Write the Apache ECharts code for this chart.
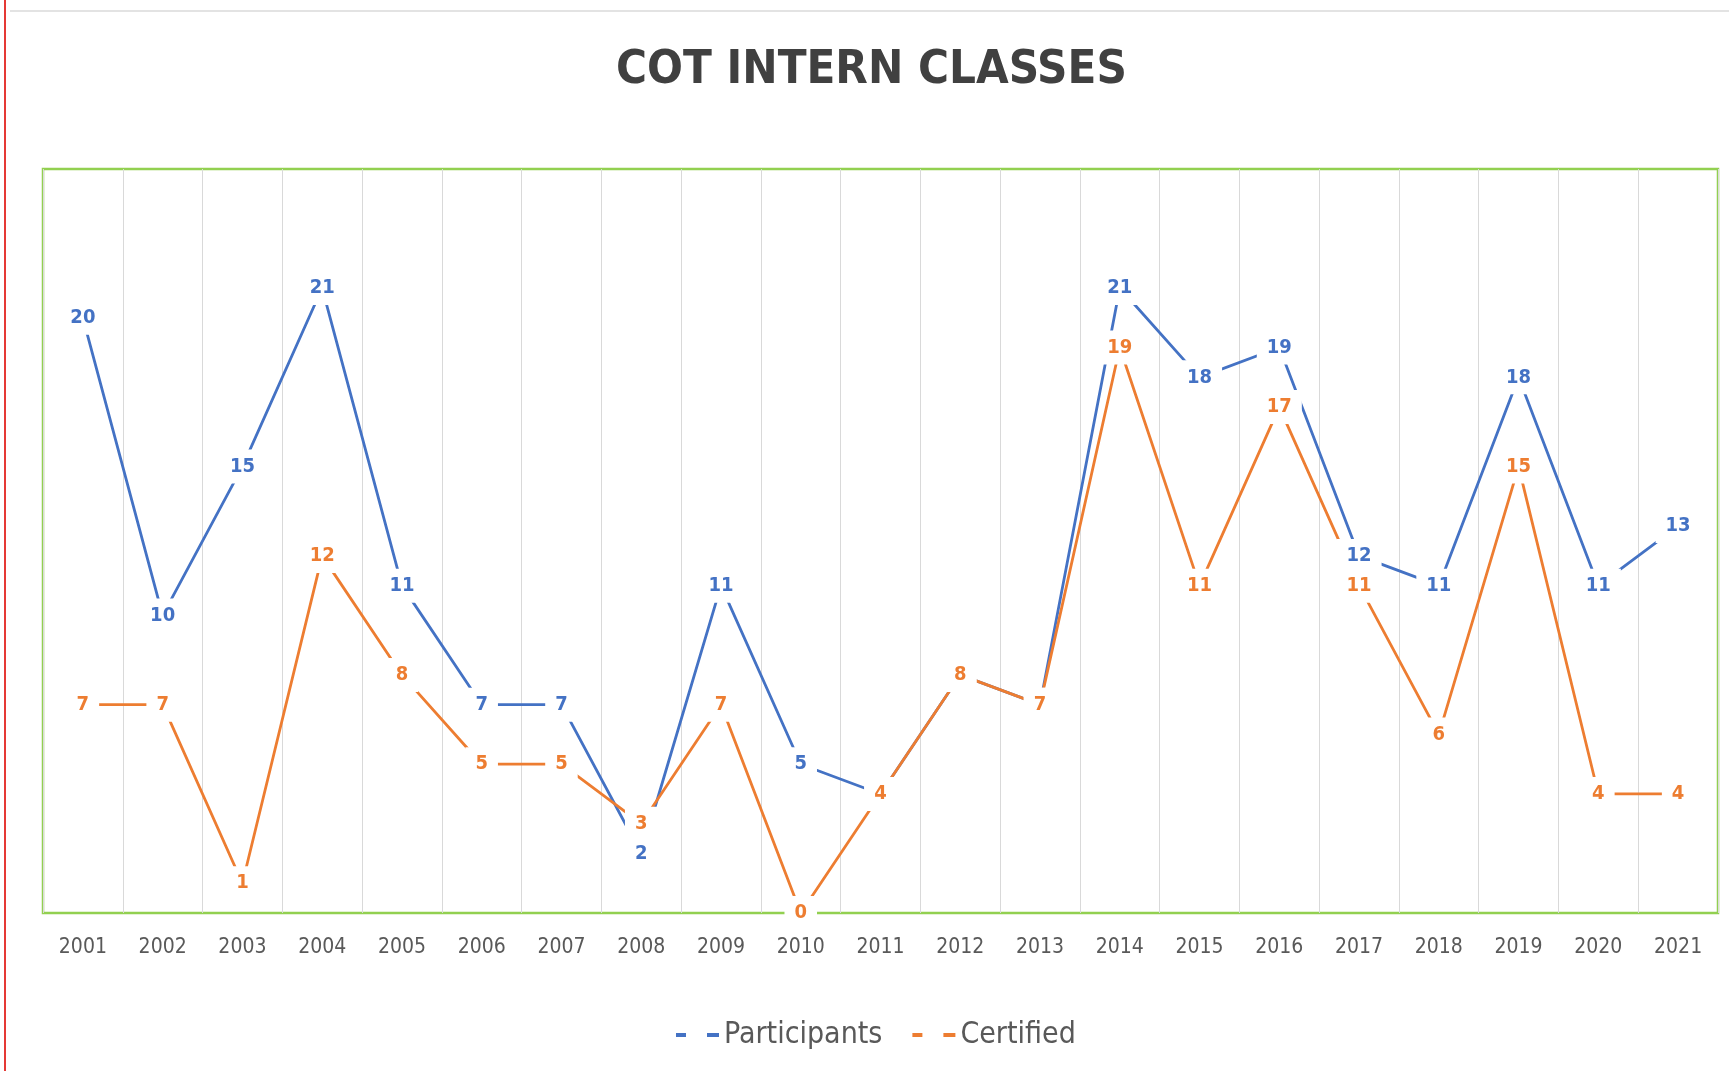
<!DOCTYPE html>
<html>
<head>
<meta charset="utf-8">
<style>
html,body{margin:0;padding:0;background:#fff;}
#chart{width:1729px;height:1071px;}
</style>
<script src="https://cdn.jsdelivr.net/npm/echarts@6/dist/echarts.min.js"></script>
</head>
<body>
<div id="chart"></div>
<script>
const years = ['2001','2002','2003','2004','2005','2006','2007','2008','2009','2010','2011','2012','2013','2014','2015','2016','2017','2018','2019','2020','2021'];
const participants = [20,10,15,21,11,7,7,2,11,5,4,8,7,21,18,19,12,11,18,11,13];
const certified = [7,7,1,12,8,5,5,3,7,0,4,8,7,19,11,17,11,6,15,4,4];
const titleText = 'COT INTERN CLASSES';

const FONT = "'Liberation Sans Narrow', 'DejaVu Sans Condensed', 'Open Sans', sans-serif";
const BLUE = '#4472C4', ORANGE = '#ED7D31';
const dashIcon = 'path://M0,0H10V4H0Z M31,0H43V4H31Z';

const chart = echarts.init(document.getElementById('chart'), null, {renderer:'canvas'});

function lineSeries(name, data, color){
  return {
    name: name, type: 'line', data: data,
    symbol: 'circle', symbolSize: 1, showSymbol: true,
    lineStyle: {color: color, width: 2.8},
    itemStyle: {color: color},
    label: {
      show: true, position: 'inside',
      color: color, fontWeight: 'bold', fontSize: 20, fontFamily: FONT,
      backgroundColor: '#fff', padding: [7, 10]
    },
    emphasis: {disabled: true},
    animation: false
  };
}

chart.setOption({
  animation: false,
  title: {
    text: titleText, left: 611, top: 42,
    textStyle: {fontSize: 47, fontWeight: 'bold', color: '#404040', fontFamily: FONT}
  },
  legend: {
    bottom: 16, left: 671, itemGap: 30,
    itemWidth: 43, itemHeight: 4,
    textStyle: {fontSize: 30, color: '#595959', fontFamily: FONT},
    data: [
      {name: 'Participants', icon: dashIcon, itemStyle: {color: BLUE}},
      {name: 'Certified', icon: dashIcon, itemStyle: {color: ORANGE}}
    ]
  },
  grid: {
    left: 43, right: 11, top: 169, bottom: 158,
    show: true, borderColor: '#92D050', borderWidth: 2.5, backgroundColor: 'transparent'
  },
  xAxis: {
    type: 'category', data: years, boundaryGap: true,
    axisLine: {show: false}, axisTick: {show: false},
    splitLine: {show: true, lineStyle: {color: '#D9D9D9', width: 1}},
    axisLabel: {color: '#595959', fontSize: 21, fontFamily: FONT, margin: 24}
  },
  yAxis: {
    type: 'value', min: 0, max: 25, interval: 5,
    axisLine: {show: false}, axisTick: {show: false},
    axisLabel: {show: false}, splitLine: {show: false}
  },
  graphic: [
    {type: 'line', shape: {x1: 5, y1: 0, x2: 5, y2: 1071}, style: {stroke: '#E53935', lineWidth: 2}},
    {type: 'line', shape: {x1: 10, y1: 11, x2: 1729, y2: 11}, style: {stroke: '#E3E3E3', lineWidth: 2}}
  ],
  series: [
    lineSeries('Participants', participants, BLUE),
    lineSeries('Certified', certified, ORANGE)
  ]
});
</script>
</body>
</html>
